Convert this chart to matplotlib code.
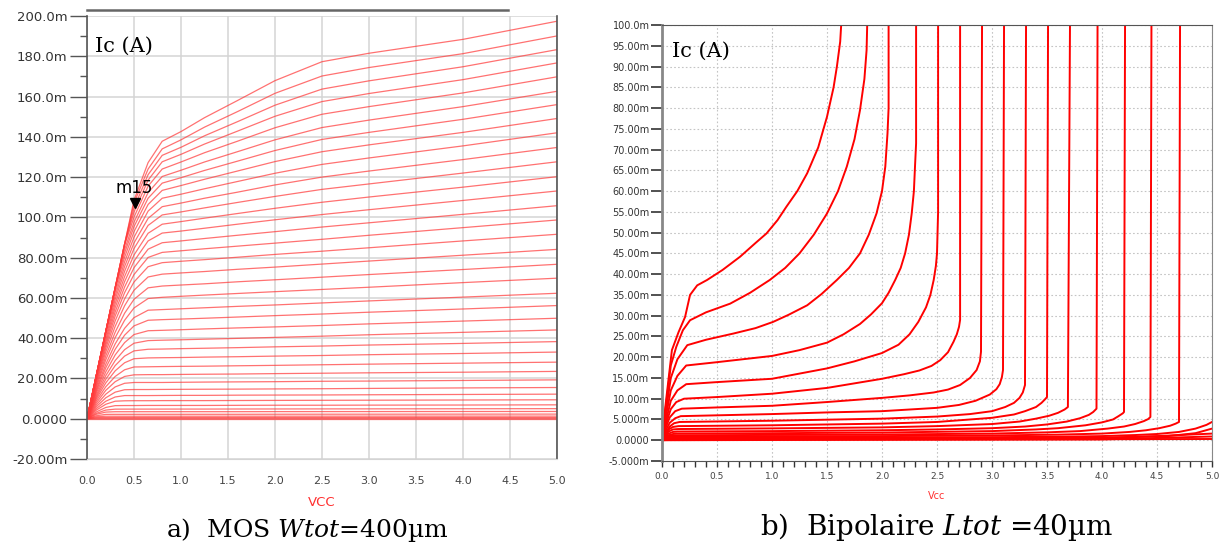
import matplotlib
matplotlib.use('Agg')
import matplotlib.pyplot as plt
from matplotlib.ticker import MultipleLocator

plt.rcParams['mathtext.fontset'] = 'dejavuserif'

# ---- (a) MOS: Ic (mA) against Vcc (V), one row per gate step
mos_vcc = [0, 0.1, 0.2, 0.3, 0.4, 0.5, 0.65, 0.8, 1.0, 1.25, 1.6, 2.0, 2.5, 3.0, 4.0, 5.0]
mos_ic = [
  [0, 21.7, 43.4, 65.1, 86.8, 108.5, 127.2, 137.8, 142.6, 149.5, 158.0, 167.9, 177.3, 181.5, 188.4, 197.4],
  [0, 21.7, 43.4, 65.1, 86.8, 107.1, 124.0, 134.0, 138.5, 144.8, 152.5, 161.6, 170.2, 174.4, 181.3, 190.1],
  [0, 21.7, 43.4, 65.1, 86.8, 104.8, 121.2, 130.8, 134.8, 140.5, 147.5, 155.7, 163.7, 167.8, 174.8, 183.3],
  [0, 21.7, 43.4, 65.1, 86.8, 102.6, 118.5, 127.6, 131.3, 136.4, 142.8, 150.2, 157.5, 161.5, 168.4, 176.7],
  [0, 21.7, 43.4, 65.1, 86.2, 100.1, 115.5, 124.0, 127.5, 132.1, 137.8, 144.5, 151.2, 155.0, 161.8, 169.8],
  [0, 21.7, 43.4, 65.1, 84.1, 97.6, 112.3, 120.3, 123.4, 127.5, 132.6, 138.5, 144.6, 148.3, 155.0, 162.6],
  [0, 21.7, 43.4, 65.1, 82.3, 95.4, 109.5, 117.0, 119.7, 123.3, 127.9, 133.2, 138.7, 142.2, 148.7, 156.0],
  [0, 21.7, 43.4, 64.5, 80.2, 92.9, 106.4, 113.4, 115.8, 118.9, 123.0, 127.7, 132.6, 136.0, 142.2, 149.1],
  [0, 21.7, 43.4, 62.8, 77.9, 90.1, 103.1, 109.5, 111.5, 114.2, 117.8, 121.9, 126.3, 129.5, 135.5, 142.0],
  [0, 21.7, 43.4, 61.0, 75.6, 87.3, 99.5, 105.3, 107.1, 109.5, 112.5, 116.1, 120.0, 123.0, 128.7, 134.7],
  [0, 21.7, 42.3, 59.2, 73.2, 84.5, 96.0, 101.2, 102.7, 104.7, 107.4, 110.4, 113.9, 116.6, 122.0, 127.6],
  [0, 21.7, 40.9, 57.2, 70.6, 81.3, 92.1, 96.6, 97.9, 99.6, 101.9, 104.5, 107.5, 110.1, 115.0, 120.2],
  [0, 21.1, 39.5, 55.2, 68.1, 78.2, 88.3, 92.2, 93.2, 94.6, 96.6, 98.8, 101.4, 103.8, 108.4, 113.1],
  [0, 20.4, 38.1, 53.1, 65.4, 75.0, 84.2, 87.4, 88.3, 89.5, 91.1, 92.9, 95.2, 97.3, 101.5, 105.8],
  [0, 19.7, 36.6, 51.0, 62.6, 71.6, 80.1, 82.6, 83.4, 84.4, 85.7, 87.2, 89.1, 91.1, 94.9, 98.7],
  [0, 18.8, 35.0, 48.6, 59.5, 67.9, 75.5, 77.5, 78.2, 79.0, 80.2, 81.6, 83.2, 84.9, 88.3, 91.6],
  [0, 17.9, 33.2, 45.9, 56.1, 63.8, 70.4, 71.8, 72.4, 73.1, 74.2, 75.3, 76.8, 78.3, 81.2, 84.1],
  [0, 16.8, 31.2, 43.0, 52.4, 59.3, 65.0, 65.9, 66.4, 67.0, 68.0, 69.0, 70.3, 71.6, 74.1, 76.7],
  [0, 15.8, 29.3, 40.3, 48.9, 55.0, 59.7, 60.3, 60.8, 61.4, 62.2, 63.1, 64.2, 65.3, 67.6, 69.8],
  [0, 14.7, 27.1, 37.2, 44.9, 50.2, 53.9, 54.2, 54.6, 55.1, 55.8, 56.5, 57.5, 58.5, 60.4, 62.3],
  [0, 13.8, 25.3, 34.5, 41.5, 46.1, 48.9, 49.2, 49.5, 49.9, 50.5, 51.2, 52.0, 52.9, 54.5, 56.2],
  [0, 12.8, 23.3, 31.7, 37.8, 41.8, 43.7, 43.9, 44.2, 44.6, 45.1, 45.6, 46.3, 47.1, 48.5, 49.9],
  [0, 11.7, 21.4, 28.9, 34.3, 37.5, 38.8, 39.0, 39.2, 39.5, 39.9, 40.4, 41.0, 41.7, 42.9, 44.1],
  [0, 10.8, 19.6, 26.4, 31.1, 33.7, 34.5, 34.6, 34.8, 35.0, 35.3, 35.7, 36.1, 36.6, 37.4, 38.3],
  [0, 9.9, 17.8, 23.8, 27.8, 29.8, 30.2, 30.3, 30.4, 30.6, 30.8, 31.1, 31.4, 31.8, 32.4, 33.1],
  [0, 8.9, 15.9, 21.0, 24.3, 25.7, 25.8, 25.9, 26.0, 26.1, 26.3, 26.5, 26.8, 27.1, 27.6, 28.1],
  [0, 7.9, 14.1, 18.4, 21.0, 21.8, 21.9, 21.9, 22.0, 22.1, 22.2, 22.4, 22.6, 22.8, 23.1, 23.5],
  [0, 6.9, 12.2, 15.8, 17.6, 18.0, 18.0, 18.0, 18.1, 18.2, 18.3, 18.4, 18.6, 18.7, 19.0, 19.3],
  [0, 6.0, 10.4, 13.2, 14.4, 14.5, 14.5, 14.55, 14.6, 14.65, 14.7, 14.8, 14.9, 15.05, 15.3, 15.5],
  [0, 5.1, 8.7, 10.8, 11.5, 11.5, 11.5, 11.55, 11.6, 11.6, 11.7, 11.75, 11.8, 11.9, 12.05, 12.2],
  [0, 4.3, 7.2, 8.7, 8.9, 8.95, 8.95, 9.0, 9.0, 9.0, 9.05, 9.1, 9.15, 9.2, 9.3, 9.4],
  [0, 3.4, 5.6, 6.5, 6.55, 6.55, 6.6, 6.6, 6.6, 6.6, 6.65, 6.7, 6.7, 6.75, 6.8, 6.9],
  [0, 2.7, 4.3, 4.76, 4.77, 4.78, 4.78, 4.79, 4.8, 4.8, 4.83, 4.85, 4.88, 4.9, 4.95, 5.0],
  [0, 2.2, 3.3, 3.48, 3.48, 3.49, 3.49, 3.5, 3.5, 3.5, 3.5, 3.53, 3.54, 3.55, 3.58, 3.6],
  [0, 1.5, 2.16, 2.18, 2.18, 2.19, 2.19, 2.2, 2.2, 2.2, 2.2, 2.23, 2.24, 2.25, 2.28, 2.3],
  [0, 0.99, 1.24, 1.24, 1.24, 1.24, 1.24, 1.25, 1.25, 1.25, 1.26, 1.26, 1.27, 1.28, 1.29, 1.3],
  [0, 0.53, 0.575, 0.575, 0.575, 0.575, 0.575, 0.58, 0.58, 0.58, 0.58, 0.585, 0.59, 0.59, 0.595, 0.6],
  [0, 0.2, 0.2, 0.2, 0.2, 0.2, 0.2, 0.2, 0.2, 0.2, 0.2, 0.2, 0.2, 0.2, 0.2, 0.2],
  [0, 0, 0, 0, 0, 0, 0, 0, 0, 0, 0, 0, 0, 0, 0, 0],
]
m15_vcc, m15_ic = 0.51, 107.0

# ---- (b) bipolar: each curve has its own Vcc points (breakdown goes vertical)
bjt_vcc = [
  [0, 0.03, 0.09, 0.15, 0.21, 0.255, 0.32, 0.41, 0.55, 0.71, 0.85, 0.95, 1.05, 1.13, 1.23, 1.32, 1.42, 1.50, 1.56, 1.59, 1.62, 1.64],
  [0, 0.03, 0.08, 0.13, 0.19, 0.255, 0.40, 0.62, 0.80, 0.98, 1.12, 1.25, 1.38, 1.50, 1.60, 1.68, 1.75, 1.80, 1.84, 1.86, 1.87],
  [0, 0.03, 0.08, 0.14, 0.23, 0.40, 0.65, 0.85, 1.01, 1.15, 1.32, 1.45, 1.59, 1.70, 1.80, 1.88, 1.95, 2.00, 2.03, 2.05, 2.06, 2.06],
  [0, 0.03, 0.08, 0.14, 0.22, 0.5, 1.0, 1.25, 1.5, 1.65, 1.8, 1.9, 2.0, 2.06, 2.12, 2.17, 2.21, 2.245, 2.27, 2.29, 2.30, 2.31, 2.31],
  [0, 0.03, 0.08, 0.14, 0.22, 0.5, 1.0, 1.5, 1.75, 2.0, 2.15, 2.25, 2.33, 2.40, 2.44, 2.47, 2.49, 2.50, 2.51, 2.51],
  [0, 0.03, 0.08, 0.13, 0.2, 0.5, 1.0, 1.5, 2.0, 2.2, 2.34, 2.45, 2.53, 2.60, 2.65, 2.68, 2.70, 2.71, 2.71],
  [0, 0.03, 0.07, 0.12, 0.18, 0.5, 1.0, 1.5, 2.0, 2.25, 2.47, 2.6, 2.71, 2.80, 2.86, 2.89, 2.90, 2.91],
  [0, 0.03, 0.07, 0.12, 0.17, 0.5, 1.0, 1.5, 2.0, 2.5, 2.7, 2.85, 2.98, 3.04, 3.07, 3.09, 3.10, 3.11],
  [0, 0.03, 0.07, 0.11, 0.16, 1.0, 2.0, 2.5, 2.8, 3.0, 3.12, 3.2, 3.25, 3.28, 3.30, 3.31],
  [0, 0.03, 0.06, 0.1, 0.15, 1.0, 2.0, 2.5, 3.0, 3.2, 3.3, 3.4, 3.45, 3.48, 3.50, 3.51],
  [0, 0.03, 0.06, 0.1, 0.15, 1.0, 2.0, 2.5, 3.0, 3.25, 3.4, 3.52, 3.6, 3.66, 3.69, 3.71],
  [0, 0.03, 0.06, 0.1, 0.14, 1.0, 2.0, 2.5, 3.0, 3.3, 3.5, 3.68, 3.8, 3.88, 3.92, 3.95, 3.96],
  [0, 0.03, 0.06, 0.1, 0.13, 1.0, 2.0, 3.0, 3.4, 3.6, 3.85, 4.0, 4.1, 4.15, 4.19, 4.20, 4.21],
  [0, 0.03, 0.06, 0.12, 1.0, 2.0, 3.0, 3.5, 3.8, 4.05, 4.2, 4.3, 4.38, 4.42, 4.44, 4.45],
  [0, 0.03, 0.06, 0.12, 1.0, 2.0, 3.0, 3.6, 4.0, 4.25, 4.4, 4.52, 4.62, 4.67, 4.70, 4.71],
  [0, 0.05, 0.12, 1.0, 2.0, 3.0, 3.6, 4.0, 4.3, 4.5, 4.7, 4.85, 4.95, 5.0],
  [0, 0.05, 0.1, 1.0, 3.0, 4.0, 4.6, 4.85, 5.0],
  [0, 0.05, 0.1, 1.0, 4.0, 5.0],
  [0, 0.1, 4.0, 5.0],
  [0, 5.0],
]
bjt_ic = [
  [0, 8, 21.7, 26.0, 29.7, 35.0, 37.3, 38.6, 41.0, 44.2, 47.5, 49.8, 53.0, 56.2, 60.0, 64.3, 70.5, 77.9, 85, 90, 96, 105],
  [0, 7, 18, 22.5, 26.5, 28.9, 30.8, 32.9, 35.5, 38.6, 41.5, 45, 49.5, 54.6, 60, 65.9, 72.5, 79.5, 87, 94, 105],
  [0, 6, 15, 19.5, 22.9, 24.2, 25.7, 27.0, 28.5, 30.2, 32.5, 35.2, 38.6, 41.5, 45, 49.5, 54.6, 60, 65.9, 73.9, 80, 105],
  [0, 5, 12, 15.5, 18, 18.8, 20.3, 21.7, 23.5, 25.5, 28, 30.3, 33, 35.5, 38.6, 41.5, 45, 49.5, 54.6, 60, 65.9, 71.5, 105],
  [0, 4, 9.5, 12, 13.5, 14.0, 14.8, 17.3, 19.0, 21.0, 23.0, 25.5, 28.5, 32, 35, 38.6, 42, 45, 55, 105],
  [0, 3.5, 7.5, 9.2, 10, 10.4, 11.2, 12.6, 14.8, 15.9, 16.8, 17.9, 19.3, 21.2, 23.7, 25.5, 27.3, 29, 105],
  [0, 2.8, 5.5, 7.0, 7.6, 7.9, 8.3, 9.2, 10.2, 10.8, 11.5, 12.2, 13.3, 15.0, 16.9, 19.0, 21.3, 105],
  [0, 2.2, 4.2, 5.3, 5.8, 6.0, 6.3, 6.7, 7.0, 7.8, 8.5, 9.5, 11.0, 12.3, 13.5, 15.2, 16.9, 105],
  [0, 1.7, 3.3, 4.1, 4.4, 4.7, 5.2, 5.7, 6.3, 7.0, 8.0, 9.0, 10.2, 11.5, 13.3, 105],
  [0, 1.4, 2.6, 3.2, 3.4, 3.6, 4.0, 4.4, 5.4, 6.2, 7.0, 8.0, 9.0, 9.8, 10.4, 105],
  [0, 1.1, 2.1, 2.6, 2.7, 2.85, 3.1, 3.4, 3.9, 4.5, 5.2, 5.9, 6.6, 7.4, 8.0, 105],
  [0, 0.9, 1.6, 2.0, 2.1, 2.2, 2.4, 2.6, 2.9, 3.3, 3.8, 4.5, 5.3, 6.1, 6.8, 7.6, 105],
  [0, 0.7, 1.2, 1.5, 1.6, 1.7, 1.85, 2.2, 2.6, 2.9, 3.6, 4.3, 5.0, 5.8, 6.5, 6.8, 105],
  [0, 0.6, 1.0, 1.2, 1.28, 1.38, 1.6, 1.9, 2.2, 2.8, 3.3, 3.9, 4.6, 5.1, 5.6, 105],
  [0, 0.45, 0.75, 0.9, 0.95, 1.0, 1.15, 1.35, 1.6, 2.0, 2.4, 2.9, 3.5, 4.0, 4.4, 105],
  [0, 0.45, 0.6, 0.63, 0.67, 0.75, 0.85, 1.0, 1.25, 1.5, 2.0, 2.8, 3.7, 4.4],
  [0, 0.3, 0.4, 0.42, 0.5, 0.65, 1.0, 1.7, 2.8],
  [0, 0.2, 0.25, 0.26, 0.4, 1.6],
  [0, 0.12, 0.2, 0.9],
  [0, 0.3],
]

# ---- axis ticks / labels
vcc_ticks = [0.0, 0.5, 1.0, 1.5, 2.0, 2.5, 3.0, 3.5, 4.0, 4.5, 5.0]
vcc_labels = ['0.0', '0.5', '1.0', '1.5', '2.0', '2.5', '3.0', '3.5', '4.0', '4.5', '5.0']
mos_yticks = [-20, 0, 20, 40, 60, 80, 100, 120, 140, 160, 180, 200]
mos_ylabels = ['-20.00m', '0.0000', '20.00m', '40.00m', '60.00m', '80.00m',
               '100.0m', '120.0m', '140.0m', '160.0m', '180.0m', '200.0m']
bjt_yticks = list(range(-5, 101, 5))
bjt_ylabels = ['-5.000m', '0.0000', '5.000m'] + ['%.2fm' % v for v in range(10, 100, 5)] + ['100.0m']

W, H = 1221, 547
fig = plt.figure(figsize=(W / 100, H / 100), dpi=100)

# ------------------------------------------------------------------ (a)
ax1 = fig.add_axes([87 / W, 88 / H, 470 / W, 443 / H])
for row in mos_ic:
  ax1.plot(mos_vcc, row, color='#ff3b3b', lw=0.9, alpha=0.72)
ax1.set_xlim(0, 5)
ax1.set_ylim(-20, 200)
ax1.set_xticks(vcc_ticks)
ax1.set_xticklabels(vcc_labels, fontsize=8, color='#444444')
ax1.set_yticks(mos_yticks)
ax1.set_yticklabels(mos_ylabels, fontsize=9.5, color='#333333')
ax1.yaxis.set_minor_locator(MultipleLocator(10))
ax1.tick_params(axis='y', which='major', length=12, width=1, color='#555555', pad=2)
ax1.tick_params(axis='y', which='minor', length=5, width=1, color='#555555')
ax1.tick_params(axis='x', length=0, pad=12)
ax1.grid(True, color='#d4d4d4', lw=1.1)
ax1.set_axisbelow(True)
for s in ('left', 'right'):
  ax1.spines[s].set_color('#555555')
  ax1.spines[s].set_linewidth(1.2)
ax1.spines['top'].set_visible(False)
ax1.spines['bottom'].set_color('#d4d4d4')
ax1.axhline(203.2, xmin=0, xmax=0.896, color='#666666', lw=1.8, clip_on=False)

ax1.plot(m15_vcc, m15_ic, marker='v', color='black', ms=7, ls='none')
ax1.text(m15_vcc - 0.01, m15_ic + 7.6, 'm15', fontsize=12, ha='center', va='center')
ax1.text(0.017, 0.932, 'Ic (A)', transform=ax1.transAxes, family='DejaVu Serif',
         fontsize=15, va='center', ha='left')

fig.text(322 / W, 1 - 502 / H, 'VCC', color='#ff3030', fontsize=9.5, ha='center', va='center')
fig.text(307 / W, 1 - 530 / H, r'a)  MOS $\mathit{Wtot}$=400µm', family='DejaVu Serif',
         fontsize=18, ha='center', va='center')

# ------------------------------------------------------------------ (b)
ax2 = fig.add_axes([662 / W, 86 / H, 550 / W, 436 / H])
for v, i in zip(bjt_vcc, bjt_ic):
  ax2.plot(v, i, color='#ff0000', lw=1.4)
ax2.set_xlim(0, 5)
ax2.set_ylim(-5, 100)
ax2.set_xticks(vcc_ticks)
ax2.set_xticklabels(vcc_labels, fontsize=6.5, color='#444444')
ax2.xaxis.set_minor_locator(MultipleLocator(0.1))
ax2.set_yticks(bjt_yticks)
ax2.set_yticklabels(bjt_ylabels, fontsize=7, color='#333333')
ax2.tick_params(axis='y', length=8, width=1.2, color='#333333', pad=1)
ax2.tick_params(axis='x', which='both', length=4, width=1, color='#333333', pad=4)
ax2.grid(True, color='#c4c4c4', lw=0.8, ls=(0, (1.5, 2)))
ax2.set_axisbelow(True)
ax2.spines['left'].set_color('#888888')
ax2.spines['left'].set_linewidth(2)
ax2.spines['top'].set_color('#555555')
ax2.spines['right'].set_color('#888888')
ax2.spines['bottom'].set_color('#555555')
ax2.text(0.018, 0.94, 'Ic (A)', transform=ax2.transAxes, family='DejaVu Serif',
         fontsize=15, va='center', ha='left')

fig.text(937 / W, 1 - 496 / H, 'Vcc', color='#ff3030', fontsize=7, ha='center', va='center')
fig.text(937 / W, 1 - 527 / H, r'b)  Bipolaire $\mathit{Ltot}$ =40µm', family='DejaVu Serif',
         fontsize=20, ha='center', va='center')

fig.savefig('out.png', dpi=100)
